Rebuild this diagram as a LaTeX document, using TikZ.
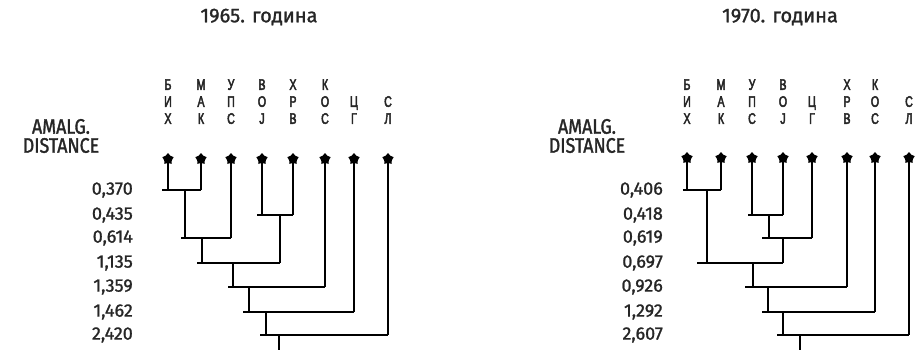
\documentclass[tikz,border=0pt]{standalone}
\usepackage{fontspec}
\setmainfont{Fira Sans}[FakeBold=1.2]
\newfontfamily\colfont{Liberation Sans}[FakeStretch=0.7,FakeBold=3]
\newfontfamily\axfont{Fira Sans}[FakeStretch=0.85,FakeBold=1.5]
\usetikzlibrary{shapes.geometric,calc}
\definecolor{ink}{HTML}{262626}
\tikzset{
  tree/.style={line width=2.2pt,draw=black},
  leaf/.style={star,star points=5,star point ratio=1.5,minimum size=12pt,inner sep=0pt,fill=black},
  col/.style={anchor=south,align=center,inner sep=0pt,text depth=0pt,text=ink,
     font=\colfont\fontsize{15.2}{17}\selectfont},
  val/.style={anchor=east,inner sep=0pt,text=ink,font=\fontsize{18}{18}\selectfont},
  ttl/.style={inner sep=0pt,text=ink,font=\fontsize{20}{20}\selectfont},
  axl/.style={inner sep=0pt,text=ink,align=center,font=\axfont\fontsize{21}{19}\selectfont}
}
\begin{document}
\begin{tikzpicture}[x=1pt,y=-1pt]
\useasboundingbox (0,0) rectangle (920,351);
% ================= 1965 =================
\node[ttl] (t1) at (259,17) {1965. година};
\node[axl] (ax1) at (61,136) {AMALG.\\DISTANCE};
\foreach \n/\y/\v in {v1/190/{0,370},v2/215/{0,435},v3/238/{0,614},v4/263/{1,135},v5/287/{1,359},v6/312/{1,462},v7/335/{2,420}}
  \node[val] (a\n) at (133,\y) {\v};
% column labels
\node[col] (ac1) at (168,124) {Б\\И\\Х};
\node[col] (ac2) at (201,124) {М\\А\\К};
\node[col] (ac3) at (231,124) {У\\П\\С};
\node[col] (ac4) at (262,124) {В\\О\\Ј};
\node[col] (ac5) at (293,124) {Х\\Р\\В};
\node[col] (ac6) at (325,124) {К\\О\\С};
\node[col] (ac7) at (354,124) {Ц\\Г};
\node[col] (ac8) at (388,124) {С\\Л};
% leaves
\foreach \i/\x in {1/168,2/201,3/231,4/262,5/293,6/325,7/354,8/388}
  \node[leaf] (al\i) at (\x,159) {};
% junctions
\coordinate (aj1) at (185,190); \coordinate (aw1) at (162,190);
\coordinate (aj2) at (280,215); \coordinate (aw2) at (257,215);
\coordinate (aj3) at (202,238); \coordinate (aw3) at (181,238);
\coordinate (aj4) at (233,263); \coordinate (aw4) at (197,263);
\coordinate (aj5) at (249,287); \coordinate (aw5) at (228,287);
\coordinate (aj6) at (266,312); \coordinate (aw6) at (243,312);
\coordinate (aj7) at (279,335); \coordinate (aw7) at (260,335);
\coordinate (aroot) at (279,350);
% verticals from leaves
\draw[tree] (al1.center) -- (al1 |- aj1);
\draw[tree] (al2.center) -- (al2 |- aj1);
\draw[tree] (al3.center) -- (al3 |- aj3);
\draw[tree] (al4.center) -- (al4 |- aj2);
\draw[tree] (al5.center) -- (al5 |- aj2);
\draw[tree] (al6.center) -- (al6 |- aj5);
\draw[tree] (al7.center) -- (al7 |- aj6);
\draw[tree] (al8.center) -- (al8 |- aj7);
% horizontals
\draw[tree] (aw1) -- (al2 |- aj1);
\draw[tree] (aw2) -- (al5 |- aj2);
\draw[tree] (aw3) -- (al3 |- aj3);
\draw[tree] (aw4) -- (aj2 |- aj4);
\draw[tree] (aw5) -- (al6 |- aj5);
\draw[tree] (aw6) -- (al7 |- aj6);
\draw[tree] (aw7) -- (al8 |- aj7);
% internal verticals
\draw[tree] (aj1) -- (aj1 |- aj3);
\draw[tree] (aj2) -- (aj2 |- aj4);
\draw[tree] (aj3) -- (aj3 |- aj4);
\draw[tree] (aj4) -- (aj4 |- aj5);
\draw[tree] (aj5) -- (aj5 |- aj6);
\draw[tree] (aj6) -- (aj6 |- aj7);
\draw[tree] (aj7) -- (aroot);
% ================= 1970 =================
\node[ttl] (t2) at (780,17) {1970. година};
\node[axl] (ax2) at (587,136) {AMALG.\\DISTANCE};
\foreach \n/\y/\v in {v1/190/{0,406},v2/215/{0,418},v3/238/{0,619},v4/263/{0,697},v5/287/{0,926},v6/312/{1,292},v7/335/{2,607}}
  \node[val] (b\n) at (663,\y) {\v};
\node[col] (bc1) at (687,124) {Б\\И\\Х};
\node[col] (bc2) at (721,124) {М\\А\\К};
\node[col] (bc3) at (752,124) {У\\П\\С};
\node[col] (bc4) at (783,124) {В\\О\\Ј};
\node[col] (bc5) at (812,124) {Ц\\Г};
\node[col] (bc6) at (847,124) {Х\\Р\\В};
\node[col] (bc7) at (875,124) {К\\О\\С};
\node[col] (bc8) at (909,124) {С\\Л};
\foreach \i/\x in {1/687,2/721,3/752,4/783,5/812,6/847,7/875,8/909}
  \node[leaf] (bl\i) at (\x,158) {};
\coordinate (bj1) at (707,190); \coordinate (bw1) at (683,190);
\coordinate (bj2) at (769,215); \coordinate (bw2) at (748,215);
\coordinate (bj3) at (783,238); \coordinate (bw3) at (762,238);
\coordinate (bj4) at (753,263); \coordinate (bw4) at (697,263);
\coordinate (bj5) at (768,287); \coordinate (bw5) at (745,287);
\coordinate (bj6) at (783,312); \coordinate (bw6) at (762,312);
\coordinate (bj7) at (800,335); \coordinate (bw7) at (777,335);
\coordinate (broot) at (800,350);
\draw[tree] (bl1.center) -- (bl1 |- bj1);
\draw[tree] (bl2.center) -- (bl2 |- bj1);
\draw[tree] (bl3.center) -- (bl3 |- bj2);
\draw[tree] (bl4.center) -- (bl4 |- bj2);
\draw[tree] (bl5.center) -- (bl5 |- bj3);
\draw[tree] (bl6.center) -- (bl6 |- bj5);
\draw[tree] (bl7.center) -- (bl7 |- bj6);
\draw[tree] (bl8.center) -- (bl8 |- bj7);
\draw[tree] (bw1) -- (bl2 |- bj1);
\draw[tree] (bw2) -- (bl4 |- bj2);
\draw[tree] (bw3) -- (bl5 |- bj3);
\draw[tree] (bw4) -- (bj3 |- bj4);
\draw[tree] (bw5) -- (bl6 |- bj5);
\draw[tree] (bw6) -- (bl7 |- bj6);
\draw[tree] (bw7) -- (bl8 |- bj7);
\draw[tree] (bj1) -- (bj1 |- bj4);
\draw[tree] (bj2) -- (bj2 |- bj3);
\draw[tree] (bj3) -- (bj3 |- bj4);
\draw[tree] (bj4) -- (bj4 |- bj5);
\draw[tree] (bj5) -- (bj5 |- bj6);
\draw[tree] (bj6) -- (bj6 |- bj7);
\draw[tree] (bj7) -- (broot);
\end{tikzpicture}
\end{document}
